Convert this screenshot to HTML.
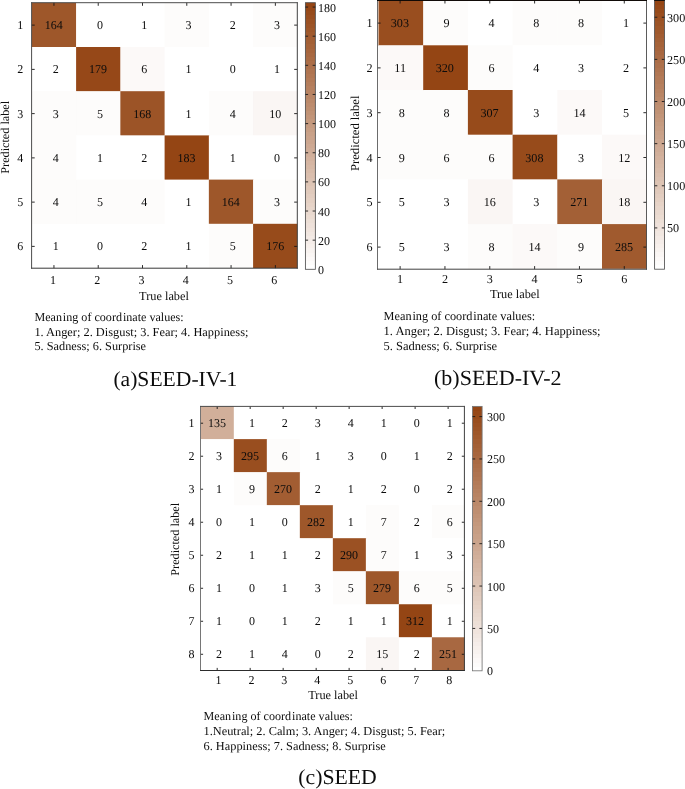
<!DOCTYPE html>
<html><head><meta charset="utf-8"><title>Confusion matrices</title>
<style>
html,body{margin:0;padding:0;background:#fff;}
body{width:685px;height:789px;overflow:hidden;font-family:"Liberation Serif",serif;}
svg{display:block;font-family:"Liberation Serif",serif;will-change:transform;}
text{text-rendering:geometricPrecision;}
</style></head><body>
<svg width="685" height="789" viewBox="0 0 685 789">
<rect x="31.85" y="2.80" width="44.65" height="44.60" fill="rgb(158,87,42)"/>
<rect x="76.10" y="2.80" width="44.65" height="44.60" fill="rgb(255,255,255)"/>
<rect x="120.35" y="2.80" width="44.65" height="44.60" fill="rgb(255,255,255)"/>
<rect x="164.60" y="2.80" width="44.65" height="44.60" fill="rgb(253,252,251)"/>
<rect x="208.85" y="2.80" width="44.65" height="44.60" fill="rgb(255,255,255)"/>
<rect x="253.10" y="2.80" width="44.25" height="44.60" fill="rgb(253,252,251)"/>
<rect x="31.85" y="47.00" width="44.65" height="44.60" fill="rgb(255,255,255)"/>
<rect x="76.10" y="47.00" width="44.65" height="44.60" fill="rgb(150,72,24)"/>
<rect x="120.35" y="47.00" width="44.65" height="44.60" fill="rgb(252,249,248)"/>
<rect x="164.60" y="47.00" width="44.65" height="44.60" fill="rgb(255,255,255)"/>
<rect x="208.85" y="47.00" width="44.65" height="44.60" fill="rgb(255,255,255)"/>
<rect x="253.10" y="47.00" width="44.25" height="44.60" fill="rgb(255,255,255)"/>
<rect x="31.85" y="91.20" width="44.65" height="44.60" fill="rgb(253,252,251)"/>
<rect x="76.10" y="91.20" width="44.65" height="44.60" fill="rgb(253,252,251)"/>
<rect x="120.35" y="91.20" width="44.65" height="44.60" fill="rgb(156,84,39)"/>
<rect x="164.60" y="91.20" width="44.65" height="44.60" fill="rgb(255,255,255)"/>
<rect x="208.85" y="91.20" width="44.65" height="44.60" fill="rgb(253,252,251)"/>
<rect x="253.10" y="91.20" width="44.25" height="44.60" fill="rgb(250,246,244)"/>
<rect x="31.85" y="135.40" width="44.65" height="44.60" fill="rgb(253,252,251)"/>
<rect x="76.10" y="135.40" width="44.65" height="44.60" fill="rgb(255,255,255)"/>
<rect x="120.35" y="135.40" width="44.65" height="44.60" fill="rgb(255,255,255)"/>
<rect x="164.60" y="135.40" width="44.65" height="44.60" fill="rgb(148,69,20)"/>
<rect x="208.85" y="135.40" width="44.65" height="44.60" fill="rgb(255,255,255)"/>
<rect x="253.10" y="135.40" width="44.25" height="44.60" fill="rgb(255,255,255)"/>
<rect x="31.85" y="179.60" width="44.65" height="44.60" fill="rgb(253,252,251)"/>
<rect x="76.10" y="179.60" width="44.65" height="44.60" fill="rgb(253,252,251)"/>
<rect x="120.35" y="179.60" width="44.65" height="44.60" fill="rgb(253,252,251)"/>
<rect x="164.60" y="179.60" width="44.65" height="44.60" fill="rgb(255,255,255)"/>
<rect x="208.85" y="179.60" width="44.65" height="44.60" fill="rgb(158,87,42)"/>
<rect x="253.10" y="179.60" width="44.25" height="44.60" fill="rgb(253,252,251)"/>
<rect x="31.85" y="223.80" width="44.65" height="44.20" fill="rgb(255,255,255)"/>
<rect x="76.10" y="223.80" width="44.65" height="44.20" fill="rgb(255,255,255)"/>
<rect x="120.35" y="223.80" width="44.65" height="44.20" fill="rgb(255,255,255)"/>
<rect x="164.60" y="223.80" width="44.65" height="44.20" fill="rgb(255,255,255)"/>
<rect x="208.85" y="223.80" width="44.65" height="44.20" fill="rgb(253,252,251)"/>
<rect x="253.10" y="223.80" width="44.25" height="44.20" fill="rgb(151,75,27)"/>
<text x="53.74" y="29.22" font-size="12" text-anchor="middle" fill="#0c0c0c">164</text>
<text x="99.93" y="29.22" font-size="12" text-anchor="middle" fill="#0c0c0c">0</text>
<text x="144.21" y="29.22" font-size="12" text-anchor="middle" fill="#0c0c0c">1</text>
<text x="188.49" y="29.22" font-size="12" text-anchor="middle" fill="#0c0c0c">3</text>
<text x="232.77" y="29.22" font-size="12" text-anchor="middle" fill="#0c0c0c">2</text>
<text x="277.06" y="29.22" font-size="12" text-anchor="middle" fill="#0c0c0c">3</text>
<text x="55.64" y="73.47" font-size="12" text-anchor="middle" fill="#0c0c0c">2</text>
<text x="98.03" y="73.47" font-size="12" text-anchor="middle" fill="#0c0c0c">179</text>
<text x="144.21" y="73.47" font-size="12" text-anchor="middle" fill="#0c0c0c">6</text>
<text x="188.49" y="73.47" font-size="12" text-anchor="middle" fill="#0c0c0c">1</text>
<text x="232.77" y="73.47" font-size="12" text-anchor="middle" fill="#0c0c0c">0</text>
<text x="277.06" y="73.47" font-size="12" text-anchor="middle" fill="#0c0c0c">1</text>
<text x="55.64" y="117.72" font-size="12" text-anchor="middle" fill="#0c0c0c">3</text>
<text x="99.93" y="117.72" font-size="12" text-anchor="middle" fill="#0c0c0c">5</text>
<text x="142.31" y="117.72" font-size="12" text-anchor="middle" fill="#0c0c0c">168</text>
<text x="188.49" y="117.72" font-size="12" text-anchor="middle" fill="#0c0c0c">1</text>
<text x="232.77" y="117.72" font-size="12" text-anchor="middle" fill="#0c0c0c">4</text>
<text x="275.36" y="117.72" font-size="12" text-anchor="middle" fill="#0c0c0c">10</text>
<text x="55.64" y="161.97" font-size="12" text-anchor="middle" fill="#0c0c0c">4</text>
<text x="99.93" y="161.97" font-size="12" text-anchor="middle" fill="#0c0c0c">1</text>
<text x="144.21" y="161.97" font-size="12" text-anchor="middle" fill="#0c0c0c">2</text>
<text x="186.59" y="161.97" font-size="12" text-anchor="middle" fill="#0c0c0c">183</text>
<text x="232.77" y="161.97" font-size="12" text-anchor="middle" fill="#0c0c0c">1</text>
<text x="277.06" y="161.97" font-size="12" text-anchor="middle" fill="#0c0c0c">0</text>
<text x="55.64" y="206.22" font-size="12" text-anchor="middle" fill="#0c0c0c">4</text>
<text x="99.93" y="206.22" font-size="12" text-anchor="middle" fill="#0c0c0c">5</text>
<text x="144.21" y="206.22" font-size="12" text-anchor="middle" fill="#0c0c0c">4</text>
<text x="188.49" y="206.22" font-size="12" text-anchor="middle" fill="#0c0c0c">1</text>
<text x="230.87" y="206.22" font-size="12" text-anchor="middle" fill="#0c0c0c">164</text>
<text x="277.06" y="206.22" font-size="12" text-anchor="middle" fill="#0c0c0c">3</text>
<text x="55.64" y="250.47" font-size="12" text-anchor="middle" fill="#0c0c0c">1</text>
<text x="99.93" y="250.47" font-size="12" text-anchor="middle" fill="#0c0c0c">0</text>
<text x="144.21" y="250.47" font-size="12" text-anchor="middle" fill="#0c0c0c">2</text>
<text x="188.49" y="250.47" font-size="12" text-anchor="middle" fill="#0c0c0c">1</text>
<text x="232.77" y="250.47" font-size="12" text-anchor="middle" fill="#0c0c0c">5</text>
<text x="275.16" y="250.47" font-size="12" text-anchor="middle" fill="#0c0c0c">176</text>
<path d="M53.94 268.20v-3.1M53.94 2.70v3.1M31.60 25.12h3.1M297.30 25.12h-3.1" stroke="#141414" stroke-width="0.9" fill="none"/>
<text x="23.20" y="29.23" font-size="12" text-anchor="end" fill="#0c0c0c">1</text>
<text x="52.94" y="284.20" font-size="12" text-anchor="middle" fill="#0c0c0c">1</text>
<path d="M98.23 268.20v-3.1M98.23 2.70v3.1M31.60 69.38h3.1M297.30 69.38h-3.1" stroke="#141414" stroke-width="0.9" fill="none"/>
<text x="23.20" y="73.47" font-size="12" text-anchor="end" fill="#0c0c0c">2</text>
<text x="97.23" y="284.20" font-size="12" text-anchor="middle" fill="#0c0c0c">2</text>
<path d="M142.51 268.20v-3.1M142.51 2.70v3.1M31.60 113.62h3.1M297.30 113.62h-3.1" stroke="#141414" stroke-width="0.9" fill="none"/>
<text x="23.20" y="117.72" font-size="12" text-anchor="end" fill="#0c0c0c">3</text>
<text x="141.51" y="284.20" font-size="12" text-anchor="middle" fill="#0c0c0c">3</text>
<path d="M186.79 268.20v-3.1M186.79 2.70v3.1M31.60 157.88h3.1M297.30 157.88h-3.1" stroke="#141414" stroke-width="0.9" fill="none"/>
<text x="23.20" y="161.97" font-size="12" text-anchor="end" fill="#0c0c0c">4</text>
<text x="185.79" y="284.20" font-size="12" text-anchor="middle" fill="#0c0c0c">4</text>
<path d="M231.07 268.20v-3.1M231.07 2.70v3.1M31.60 202.12h3.1M297.30 202.12h-3.1" stroke="#141414" stroke-width="0.9" fill="none"/>
<text x="23.20" y="206.22" font-size="12" text-anchor="end" fill="#0c0c0c">5</text>
<text x="230.07" y="284.20" font-size="12" text-anchor="middle" fill="#0c0c0c">5</text>
<path d="M275.36 268.20v-3.1M275.36 2.70v3.1M31.60 246.38h3.1M297.30 246.38h-3.1" stroke="#141414" stroke-width="0.9" fill="none"/>
<text x="23.20" y="250.47" font-size="12" text-anchor="end" fill="#0c0c0c">6</text>
<text x="274.36" y="284.20" font-size="12" text-anchor="middle" fill="#0c0c0c">6</text>
<path d="M31.60 2.25V268.65" stroke="#4d4d4d" stroke-width="1"/>
<path d="M297.30 2.25V268.65" stroke="#404040" stroke-width="1"/>
<path d="M31.15 2.70H297.75" stroke="#4d4d4d" stroke-width="1"/>
<path d="M31.15 268.20H297.75" stroke="#383838" stroke-width="1"/>
<text x="164.00" y="299.70" font-size="12.3" text-anchor="middle" fill="#0c0c0c">True label</text>
<text transform="translate(9.00,137.30) rotate(-90)" font-size="12" text-anchor="middle" fill="#0c0c0c" textLength="72.8" lengthAdjust="spacingAndGlyphs">Predicted label</text>
<linearGradient id="g31" x1="0" y1="1" x2="0" y2="0"><stop offset="0.00000" stop-color="rgb(255,255,255)"/><stop offset="0.01562" stop-color="rgb(255,255,255)"/><stop offset="0.01562" stop-color="rgb(253,252,251)"/><stop offset="0.03125" stop-color="rgb(253,252,251)"/><stop offset="0.03125" stop-color="rgb(252,249,248)"/><stop offset="0.04688" stop-color="rgb(252,249,248)"/><stop offset="0.04688" stop-color="rgb(250,246,244)"/><stop offset="0.06250" stop-color="rgb(250,246,244)"/><stop offset="0.06250" stop-color="rgb(248,243,240)"/><stop offset="0.07812" stop-color="rgb(248,243,240)"/><stop offset="0.07812" stop-color="rgb(247,240,236)"/><stop offset="0.09375" stop-color="rgb(247,240,236)"/><stop offset="0.09375" stop-color="rgb(245,237,233)"/><stop offset="0.10938" stop-color="rgb(245,237,233)"/><stop offset="0.10938" stop-color="rgb(243,234,229)"/><stop offset="0.12500" stop-color="rgb(243,234,229)"/><stop offset="0.12500" stop-color="rgb(241,231,225)"/><stop offset="0.14062" stop-color="rgb(241,231,225)"/><stop offset="0.14062" stop-color="rgb(240,228,221)"/><stop offset="0.15625" stop-color="rgb(240,228,221)"/><stop offset="0.15625" stop-color="rgb(238,225,218)"/><stop offset="0.17188" stop-color="rgb(238,225,218)"/><stop offset="0.17188" stop-color="rgb(236,223,214)"/><stop offset="0.18750" stop-color="rgb(236,223,214)"/><stop offset="0.18750" stop-color="rgb(235,220,210)"/><stop offset="0.20312" stop-color="rgb(235,220,210)"/><stop offset="0.20312" stop-color="rgb(233,217,207)"/><stop offset="0.21875" stop-color="rgb(233,217,207)"/><stop offset="0.21875" stop-color="rgb(231,214,203)"/><stop offset="0.23438" stop-color="rgb(231,214,203)"/><stop offset="0.23438" stop-color="rgb(230,211,199)"/><stop offset="0.25000" stop-color="rgb(230,211,199)"/><stop offset="0.25000" stop-color="rgb(228,208,195)"/><stop offset="0.26562" stop-color="rgb(228,208,195)"/><stop offset="0.26562" stop-color="rgb(226,205,192)"/><stop offset="0.28125" stop-color="rgb(226,205,192)"/><stop offset="0.28125" stop-color="rgb(224,202,188)"/><stop offset="0.29688" stop-color="rgb(224,202,188)"/><stop offset="0.29688" stop-color="rgb(223,199,184)"/><stop offset="0.31250" stop-color="rgb(223,199,184)"/><stop offset="0.31250" stop-color="rgb(221,196,180)"/><stop offset="0.32812" stop-color="rgb(221,196,180)"/><stop offset="0.32812" stop-color="rgb(219,193,177)"/><stop offset="0.34375" stop-color="rgb(219,193,177)"/><stop offset="0.34375" stop-color="rgb(218,190,173)"/><stop offset="0.35938" stop-color="rgb(218,190,173)"/><stop offset="0.35938" stop-color="rgb(216,187,169)"/><stop offset="0.37500" stop-color="rgb(216,187,169)"/><stop offset="0.37500" stop-color="rgb(214,184,165)"/><stop offset="0.39062" stop-color="rgb(214,184,165)"/><stop offset="0.39062" stop-color="rgb(213,181,162)"/><stop offset="0.40625" stop-color="rgb(213,181,162)"/><stop offset="0.40625" stop-color="rgb(211,178,158)"/><stop offset="0.42188" stop-color="rgb(211,178,158)"/><stop offset="0.42188" stop-color="rgb(209,175,154)"/><stop offset="0.43750" stop-color="rgb(209,175,154)"/><stop offset="0.43750" stop-color="rgb(207,172,151)"/><stop offset="0.45312" stop-color="rgb(207,172,151)"/><stop offset="0.45312" stop-color="rgb(206,169,147)"/><stop offset="0.46875" stop-color="rgb(206,169,147)"/><stop offset="0.46875" stop-color="rgb(204,166,143)"/><stop offset="0.48438" stop-color="rgb(204,166,143)"/><stop offset="0.48438" stop-color="rgb(202,163,139)"/><stop offset="0.50000" stop-color="rgb(202,163,139)"/><stop offset="0.50000" stop-color="rgb(201,161,136)"/><stop offset="0.51562" stop-color="rgb(201,161,136)"/><stop offset="0.51562" stop-color="rgb(199,158,132)"/><stop offset="0.53125" stop-color="rgb(199,158,132)"/><stop offset="0.53125" stop-color="rgb(197,155,128)"/><stop offset="0.54688" stop-color="rgb(197,155,128)"/><stop offset="0.54688" stop-color="rgb(196,152,124)"/><stop offset="0.56250" stop-color="rgb(196,152,124)"/><stop offset="0.56250" stop-color="rgb(194,149,121)"/><stop offset="0.57812" stop-color="rgb(194,149,121)"/><stop offset="0.57812" stop-color="rgb(192,146,117)"/><stop offset="0.59375" stop-color="rgb(192,146,117)"/><stop offset="0.59375" stop-color="rgb(190,143,113)"/><stop offset="0.60938" stop-color="rgb(190,143,113)"/><stop offset="0.60938" stop-color="rgb(189,140,110)"/><stop offset="0.62500" stop-color="rgb(189,140,110)"/><stop offset="0.62500" stop-color="rgb(187,137,106)"/><stop offset="0.64062" stop-color="rgb(187,137,106)"/><stop offset="0.64062" stop-color="rgb(185,134,102)"/><stop offset="0.65625" stop-color="rgb(185,134,102)"/><stop offset="0.65625" stop-color="rgb(184,131,98)"/><stop offset="0.67188" stop-color="rgb(184,131,98)"/><stop offset="0.67188" stop-color="rgb(182,128,95)"/><stop offset="0.68750" stop-color="rgb(182,128,95)"/><stop offset="0.68750" stop-color="rgb(180,125,91)"/><stop offset="0.70312" stop-color="rgb(180,125,91)"/><stop offset="0.70312" stop-color="rgb(179,122,87)"/><stop offset="0.71875" stop-color="rgb(179,122,87)"/><stop offset="0.71875" stop-color="rgb(177,119,83)"/><stop offset="0.73438" stop-color="rgb(177,119,83)"/><stop offset="0.73438" stop-color="rgb(175,116,80)"/><stop offset="0.75000" stop-color="rgb(175,116,80)"/><stop offset="0.75000" stop-color="rgb(173,113,76)"/><stop offset="0.76562" stop-color="rgb(173,113,76)"/><stop offset="0.76562" stop-color="rgb(172,110,72)"/><stop offset="0.78125" stop-color="rgb(172,110,72)"/><stop offset="0.78125" stop-color="rgb(170,107,68)"/><stop offset="0.79688" stop-color="rgb(170,107,68)"/><stop offset="0.79688" stop-color="rgb(168,104,65)"/><stop offset="0.81250" stop-color="rgb(168,104,65)"/><stop offset="0.81250" stop-color="rgb(167,101,61)"/><stop offset="0.82812" stop-color="rgb(167,101,61)"/><stop offset="0.82812" stop-color="rgb(165,99,57)"/><stop offset="0.84375" stop-color="rgb(165,99,57)"/><stop offset="0.84375" stop-color="rgb(163,96,54)"/><stop offset="0.85938" stop-color="rgb(163,96,54)"/><stop offset="0.85938" stop-color="rgb(162,93,50)"/><stop offset="0.87500" stop-color="rgb(162,93,50)"/><stop offset="0.87500" stop-color="rgb(160,90,46)"/><stop offset="0.89062" stop-color="rgb(160,90,46)"/><stop offset="0.89062" stop-color="rgb(158,87,42)"/><stop offset="0.90625" stop-color="rgb(158,87,42)"/><stop offset="0.90625" stop-color="rgb(156,84,39)"/><stop offset="0.92188" stop-color="rgb(156,84,39)"/><stop offset="0.92188" stop-color="rgb(155,81,35)"/><stop offset="0.93750" stop-color="rgb(155,81,35)"/><stop offset="0.93750" stop-color="rgb(153,78,31)"/><stop offset="0.95312" stop-color="rgb(153,78,31)"/><stop offset="0.95312" stop-color="rgb(151,75,27)"/><stop offset="0.96875" stop-color="rgb(151,75,27)"/><stop offset="0.96875" stop-color="rgb(150,72,24)"/><stop offset="0.98438" stop-color="rgb(150,72,24)"/><stop offset="0.98438" stop-color="rgb(148,69,20)"/><stop offset="1.00000" stop-color="rgb(148,69,20)"/></linearGradient>
<rect x="305.40" y="2.70" width="9.95" height="266.60" fill="url(#g31)" stroke="#505050" stroke-width="0.85"/>
<text x="318.00" y="273.80" font-size="12" text-anchor="start" fill="#0c0c0c">0</text>
<path d="M305.40 240.16h2.7M315.35 240.16h-2.7" stroke="#1a1a1a" stroke-width="0.9" fill="none"/>
<text x="318.00" y="244.66" font-size="12" text-anchor="start" fill="#0c0c0c">20</text>
<path d="M305.40 211.03h2.7M315.35 211.03h-2.7" stroke="#1a1a1a" stroke-width="0.9" fill="none"/>
<text x="318.00" y="215.53" font-size="12" text-anchor="start" fill="#0c0c0c">40</text>
<path d="M305.40 181.89h2.7M315.35 181.89h-2.7" stroke="#1a1a1a" stroke-width="0.9" fill="none"/>
<text x="318.00" y="186.39" font-size="12" text-anchor="start" fill="#0c0c0c">60</text>
<path d="M305.40 152.75h2.7M315.35 152.75h-2.7" stroke="#1a1a1a" stroke-width="0.9" fill="none"/>
<text x="318.00" y="157.25" font-size="12" text-anchor="start" fill="#0c0c0c">80</text>
<path d="M305.40 123.62h2.7M315.35 123.62h-2.7" stroke="#1a1a1a" stroke-width="0.9" fill="none"/>
<text x="318.00" y="128.12" font-size="12" text-anchor="start" fill="#0c0c0c">100</text>
<path d="M305.40 94.48h2.7M315.35 94.48h-2.7" stroke="#1a1a1a" stroke-width="0.9" fill="none"/>
<text x="318.00" y="98.98" font-size="12" text-anchor="start" fill="#0c0c0c">120</text>
<path d="M305.40 65.34h2.7M315.35 65.34h-2.7" stroke="#1a1a1a" stroke-width="0.9" fill="none"/>
<text x="318.00" y="69.84" font-size="12" text-anchor="start" fill="#0c0c0c">140</text>
<path d="M305.40 36.21h2.7M315.35 36.21h-2.7" stroke="#1a1a1a" stroke-width="0.9" fill="none"/>
<text x="318.00" y="40.71" font-size="12" text-anchor="start" fill="#0c0c0c">160</text>
<path d="M305.40 7.07h2.7M315.35 7.07h-2.7" stroke="#1a1a1a" stroke-width="0.9" fill="none"/>
<text x="318.00" y="11.57" font-size="12" text-anchor="start" fill="#0c0c0c">180</text>
<rect x="378.50" y="0.60" width="45.10" height="45.10" fill="rgb(153,78,31)"/>
<rect x="423.20" y="0.60" width="45.10" height="45.10" fill="rgb(253,252,251)"/>
<rect x="467.90" y="0.60" width="45.10" height="45.10" fill="rgb(255,255,255)"/>
<rect x="512.60" y="0.60" width="45.10" height="45.10" fill="rgb(253,252,251)"/>
<rect x="557.30" y="0.60" width="45.10" height="45.10" fill="rgb(253,252,251)"/>
<rect x="602.00" y="0.60" width="44.70" height="45.10" fill="rgb(255,255,255)"/>
<rect x="378.50" y="45.30" width="45.10" height="45.10" fill="rgb(252,249,248)"/>
<rect x="423.20" y="45.30" width="45.10" height="45.10" fill="rgb(148,69,20)"/>
<rect x="467.90" y="45.30" width="45.10" height="45.10" fill="rgb(253,252,251)"/>
<rect x="512.60" y="45.30" width="45.10" height="45.10" fill="rgb(255,255,255)"/>
<rect x="557.30" y="45.30" width="45.10" height="45.10" fill="rgb(255,255,255)"/>
<rect x="602.00" y="45.30" width="44.70" height="45.10" fill="rgb(255,255,255)"/>
<rect x="378.50" y="90.00" width="45.10" height="45.10" fill="rgb(253,252,251)"/>
<rect x="423.20" y="90.00" width="45.10" height="45.10" fill="rgb(253,252,251)"/>
<rect x="467.90" y="90.00" width="45.10" height="45.10" fill="rgb(151,75,27)"/>
<rect x="512.60" y="90.00" width="45.10" height="45.10" fill="rgb(255,255,255)"/>
<rect x="557.30" y="90.00" width="45.10" height="45.10" fill="rgb(252,249,248)"/>
<rect x="602.00" y="90.00" width="44.70" height="45.10" fill="rgb(255,255,255)"/>
<rect x="378.50" y="134.70" width="45.10" height="45.10" fill="rgb(253,252,251)"/>
<rect x="423.20" y="134.70" width="45.10" height="45.10" fill="rgb(253,252,251)"/>
<rect x="467.90" y="134.70" width="45.10" height="45.10" fill="rgb(253,252,251)"/>
<rect x="512.60" y="134.70" width="45.10" height="45.10" fill="rgb(151,75,27)"/>
<rect x="557.30" y="134.70" width="45.10" height="45.10" fill="rgb(255,255,255)"/>
<rect x="602.00" y="134.70" width="44.70" height="45.10" fill="rgb(252,249,248)"/>
<rect x="378.50" y="179.40" width="45.10" height="45.10" fill="rgb(255,255,255)"/>
<rect x="423.20" y="179.40" width="45.10" height="45.10" fill="rgb(255,255,255)"/>
<rect x="467.90" y="179.40" width="45.10" height="45.10" fill="rgb(250,246,244)"/>
<rect x="512.60" y="179.40" width="45.10" height="45.10" fill="rgb(255,255,255)"/>
<rect x="557.30" y="179.40" width="45.10" height="45.10" fill="rgb(163,96,54)"/>
<rect x="602.00" y="179.40" width="44.70" height="45.10" fill="rgb(250,246,244)"/>
<rect x="378.50" y="224.10" width="45.10" height="44.70" fill="rgb(255,255,255)"/>
<rect x="423.20" y="224.10" width="45.10" height="44.70" fill="rgb(255,255,255)"/>
<rect x="467.90" y="224.10" width="45.10" height="44.70" fill="rgb(253,252,251)"/>
<rect x="512.60" y="224.10" width="45.10" height="44.70" fill="rgb(252,249,248)"/>
<rect x="557.30" y="224.10" width="45.10" height="44.70" fill="rgb(253,252,251)"/>
<rect x="602.00" y="224.10" width="44.70" height="44.70" fill="rgb(160,90,46)"/>
<text x="399.92" y="27.20" font-size="12.15" text-anchor="middle" fill="#0c0c0c">303</text>
<text x="446.65" y="27.20" font-size="12.15" text-anchor="middle" fill="#0c0c0c">9</text>
<text x="491.48" y="27.20" font-size="12.15" text-anchor="middle" fill="#0c0c0c">4</text>
<text x="536.32" y="27.20" font-size="12.15" text-anchor="middle" fill="#0c0c0c">8</text>
<text x="581.15" y="27.20" font-size="12.15" text-anchor="middle" fill="#0c0c0c">8</text>
<text x="625.98" y="27.20" font-size="12.15" text-anchor="middle" fill="#0c0c0c">1</text>
<text x="400.12" y="72.00" font-size="12.15" text-anchor="middle" fill="#0c0c0c">11</text>
<text x="444.75" y="72.00" font-size="12.15" text-anchor="middle" fill="#0c0c0c">320</text>
<text x="491.48" y="72.00" font-size="12.15" text-anchor="middle" fill="#0c0c0c">6</text>
<text x="536.32" y="72.00" font-size="12.15" text-anchor="middle" fill="#0c0c0c">4</text>
<text x="581.15" y="72.00" font-size="12.15" text-anchor="middle" fill="#0c0c0c">3</text>
<text x="625.98" y="72.00" font-size="12.15" text-anchor="middle" fill="#0c0c0c">2</text>
<text x="401.82" y="116.80" font-size="12.15" text-anchor="middle" fill="#0c0c0c">8</text>
<text x="446.65" y="116.80" font-size="12.15" text-anchor="middle" fill="#0c0c0c">8</text>
<text x="489.58" y="116.80" font-size="12.15" text-anchor="middle" fill="#0c0c0c">307</text>
<text x="536.32" y="116.80" font-size="12.15" text-anchor="middle" fill="#0c0c0c">3</text>
<text x="579.45" y="116.80" font-size="12.15" text-anchor="middle" fill="#0c0c0c">14</text>
<text x="625.98" y="116.80" font-size="12.15" text-anchor="middle" fill="#0c0c0c">5</text>
<text x="401.82" y="161.60" font-size="12.15" text-anchor="middle" fill="#0c0c0c">9</text>
<text x="446.65" y="161.60" font-size="12.15" text-anchor="middle" fill="#0c0c0c">6</text>
<text x="491.48" y="161.60" font-size="12.15" text-anchor="middle" fill="#0c0c0c">6</text>
<text x="534.42" y="161.60" font-size="12.15" text-anchor="middle" fill="#0c0c0c">308</text>
<text x="581.15" y="161.60" font-size="12.15" text-anchor="middle" fill="#0c0c0c">3</text>
<text x="624.28" y="161.60" font-size="12.15" text-anchor="middle" fill="#0c0c0c">12</text>
<text x="401.82" y="206.40" font-size="12.15" text-anchor="middle" fill="#0c0c0c">5</text>
<text x="446.65" y="206.40" font-size="12.15" text-anchor="middle" fill="#0c0c0c">3</text>
<text x="489.78" y="206.40" font-size="12.15" text-anchor="middle" fill="#0c0c0c">16</text>
<text x="536.32" y="206.40" font-size="12.15" text-anchor="middle" fill="#0c0c0c">3</text>
<text x="579.25" y="206.40" font-size="12.15" text-anchor="middle" fill="#0c0c0c">271</text>
<text x="624.28" y="206.40" font-size="12.15" text-anchor="middle" fill="#0c0c0c">18</text>
<text x="401.82" y="251.20" font-size="12.15" text-anchor="middle" fill="#0c0c0c">5</text>
<text x="446.65" y="251.20" font-size="12.15" text-anchor="middle" fill="#0c0c0c">3</text>
<text x="491.48" y="251.20" font-size="12.15" text-anchor="middle" fill="#0c0c0c">8</text>
<text x="534.62" y="251.20" font-size="12.15" text-anchor="middle" fill="#0c0c0c">14</text>
<text x="581.15" y="251.20" font-size="12.15" text-anchor="middle" fill="#0c0c0c">9</text>
<text x="624.08" y="251.20" font-size="12.15" text-anchor="middle" fill="#0c0c0c">285</text>
<path d="M400.12 269.20v-3.1M400.12 0.40v3.1M377.50 23.10h3.1M646.50 23.10h-3.1" stroke="#141414" stroke-width="0.9" fill="none"/>
<text x="372.50" y="27.20" font-size="12.15" text-anchor="end" fill="#0c0c0c">1</text>
<text x="400.12" y="283.00" font-size="12.15" text-anchor="middle" fill="#0c0c0c">1</text>
<path d="M444.95 269.20v-3.1M444.95 0.40v3.1M377.50 67.90h3.1M646.50 67.90h-3.1" stroke="#141414" stroke-width="0.9" fill="none"/>
<text x="372.50" y="72.00" font-size="12.15" text-anchor="end" fill="#0c0c0c">2</text>
<text x="444.95" y="283.00" font-size="12.15" text-anchor="middle" fill="#0c0c0c">2</text>
<path d="M489.78 269.20v-3.1M489.78 0.40v3.1M377.50 112.70h3.1M646.50 112.70h-3.1" stroke="#141414" stroke-width="0.9" fill="none"/>
<text x="372.50" y="116.80" font-size="12.15" text-anchor="end" fill="#0c0c0c">3</text>
<text x="489.78" y="283.00" font-size="12.15" text-anchor="middle" fill="#0c0c0c">3</text>
<path d="M534.62 269.20v-3.1M534.62 0.40v3.1M377.50 157.50h3.1M646.50 157.50h-3.1" stroke="#141414" stroke-width="0.9" fill="none"/>
<text x="372.50" y="161.60" font-size="12.15" text-anchor="end" fill="#0c0c0c">4</text>
<text x="534.62" y="283.00" font-size="12.15" text-anchor="middle" fill="#0c0c0c">4</text>
<path d="M579.45 269.20v-3.1M579.45 0.40v3.1M377.50 202.30h3.1M646.50 202.30h-3.1" stroke="#141414" stroke-width="0.9" fill="none"/>
<text x="372.50" y="206.40" font-size="12.15" text-anchor="end" fill="#0c0c0c">5</text>
<text x="579.45" y="283.00" font-size="12.15" text-anchor="middle" fill="#0c0c0c">5</text>
<path d="M624.28 269.20v-3.1M624.28 0.40v3.1M377.50 247.10h3.1M646.50 247.10h-3.1" stroke="#141414" stroke-width="0.9" fill="none"/>
<text x="372.50" y="251.20" font-size="12.15" text-anchor="end" fill="#0c0c0c">6</text>
<text x="624.28" y="283.00" font-size="12.15" text-anchor="middle" fill="#0c0c0c">6</text>
<path d="M377.50 -0.05V269.65" stroke="#505050" stroke-width="0.85"/>
<path d="M646.50 -0.05V269.65" stroke="#484848" stroke-width="0.9"/>
<path d="M377.05 0.40H646.95" stroke="#0a0500" stroke-width="0.9"/>
<path d="M377.05 269.20H646.95" stroke="#404040" stroke-width="1"/>
<text x="514.80" y="298.30" font-size="12.3" text-anchor="middle" fill="#0c0c0c">True label</text>
<text transform="translate(359.10,133.30) rotate(-90)" font-size="12.15" text-anchor="middle" fill="#0c0c0c" textLength="75.4" lengthAdjust="spacingAndGlyphs">Predicted label</text>
<linearGradient id="g377" x1="0" y1="1" x2="0" y2="0"><stop offset="0.00000" stop-color="rgb(255,255,255)"/><stop offset="0.01562" stop-color="rgb(255,255,255)"/><stop offset="0.01562" stop-color="rgb(253,252,251)"/><stop offset="0.03125" stop-color="rgb(253,252,251)"/><stop offset="0.03125" stop-color="rgb(252,249,248)"/><stop offset="0.04688" stop-color="rgb(252,249,248)"/><stop offset="0.04688" stop-color="rgb(250,246,244)"/><stop offset="0.06250" stop-color="rgb(250,246,244)"/><stop offset="0.06250" stop-color="rgb(248,243,240)"/><stop offset="0.07812" stop-color="rgb(248,243,240)"/><stop offset="0.07812" stop-color="rgb(247,240,236)"/><stop offset="0.09375" stop-color="rgb(247,240,236)"/><stop offset="0.09375" stop-color="rgb(245,237,233)"/><stop offset="0.10938" stop-color="rgb(245,237,233)"/><stop offset="0.10938" stop-color="rgb(243,234,229)"/><stop offset="0.12500" stop-color="rgb(243,234,229)"/><stop offset="0.12500" stop-color="rgb(241,231,225)"/><stop offset="0.14062" stop-color="rgb(241,231,225)"/><stop offset="0.14062" stop-color="rgb(240,228,221)"/><stop offset="0.15625" stop-color="rgb(240,228,221)"/><stop offset="0.15625" stop-color="rgb(238,225,218)"/><stop offset="0.17188" stop-color="rgb(238,225,218)"/><stop offset="0.17188" stop-color="rgb(236,223,214)"/><stop offset="0.18750" stop-color="rgb(236,223,214)"/><stop offset="0.18750" stop-color="rgb(235,220,210)"/><stop offset="0.20312" stop-color="rgb(235,220,210)"/><stop offset="0.20312" stop-color="rgb(233,217,207)"/><stop offset="0.21875" stop-color="rgb(233,217,207)"/><stop offset="0.21875" stop-color="rgb(231,214,203)"/><stop offset="0.23438" stop-color="rgb(231,214,203)"/><stop offset="0.23438" stop-color="rgb(230,211,199)"/><stop offset="0.25000" stop-color="rgb(230,211,199)"/><stop offset="0.25000" stop-color="rgb(228,208,195)"/><stop offset="0.26562" stop-color="rgb(228,208,195)"/><stop offset="0.26562" stop-color="rgb(226,205,192)"/><stop offset="0.28125" stop-color="rgb(226,205,192)"/><stop offset="0.28125" stop-color="rgb(224,202,188)"/><stop offset="0.29688" stop-color="rgb(224,202,188)"/><stop offset="0.29688" stop-color="rgb(223,199,184)"/><stop offset="0.31250" stop-color="rgb(223,199,184)"/><stop offset="0.31250" stop-color="rgb(221,196,180)"/><stop offset="0.32812" stop-color="rgb(221,196,180)"/><stop offset="0.32812" stop-color="rgb(219,193,177)"/><stop offset="0.34375" stop-color="rgb(219,193,177)"/><stop offset="0.34375" stop-color="rgb(218,190,173)"/><stop offset="0.35938" stop-color="rgb(218,190,173)"/><stop offset="0.35938" stop-color="rgb(216,187,169)"/><stop offset="0.37500" stop-color="rgb(216,187,169)"/><stop offset="0.37500" stop-color="rgb(214,184,165)"/><stop offset="0.39062" stop-color="rgb(214,184,165)"/><stop offset="0.39062" stop-color="rgb(213,181,162)"/><stop offset="0.40625" stop-color="rgb(213,181,162)"/><stop offset="0.40625" stop-color="rgb(211,178,158)"/><stop offset="0.42188" stop-color="rgb(211,178,158)"/><stop offset="0.42188" stop-color="rgb(209,175,154)"/><stop offset="0.43750" stop-color="rgb(209,175,154)"/><stop offset="0.43750" stop-color="rgb(207,172,151)"/><stop offset="0.45312" stop-color="rgb(207,172,151)"/><stop offset="0.45312" stop-color="rgb(206,169,147)"/><stop offset="0.46875" stop-color="rgb(206,169,147)"/><stop offset="0.46875" stop-color="rgb(204,166,143)"/><stop offset="0.48438" stop-color="rgb(204,166,143)"/><stop offset="0.48438" stop-color="rgb(202,163,139)"/><stop offset="0.50000" stop-color="rgb(202,163,139)"/><stop offset="0.50000" stop-color="rgb(201,161,136)"/><stop offset="0.51562" stop-color="rgb(201,161,136)"/><stop offset="0.51562" stop-color="rgb(199,158,132)"/><stop offset="0.53125" stop-color="rgb(199,158,132)"/><stop offset="0.53125" stop-color="rgb(197,155,128)"/><stop offset="0.54688" stop-color="rgb(197,155,128)"/><stop offset="0.54688" stop-color="rgb(196,152,124)"/><stop offset="0.56250" stop-color="rgb(196,152,124)"/><stop offset="0.56250" stop-color="rgb(194,149,121)"/><stop offset="0.57812" stop-color="rgb(194,149,121)"/><stop offset="0.57812" stop-color="rgb(192,146,117)"/><stop offset="0.59375" stop-color="rgb(192,146,117)"/><stop offset="0.59375" stop-color="rgb(190,143,113)"/><stop offset="0.60938" stop-color="rgb(190,143,113)"/><stop offset="0.60938" stop-color="rgb(189,140,110)"/><stop offset="0.62500" stop-color="rgb(189,140,110)"/><stop offset="0.62500" stop-color="rgb(187,137,106)"/><stop offset="0.64062" stop-color="rgb(187,137,106)"/><stop offset="0.64062" stop-color="rgb(185,134,102)"/><stop offset="0.65625" stop-color="rgb(185,134,102)"/><stop offset="0.65625" stop-color="rgb(184,131,98)"/><stop offset="0.67188" stop-color="rgb(184,131,98)"/><stop offset="0.67188" stop-color="rgb(182,128,95)"/><stop offset="0.68750" stop-color="rgb(182,128,95)"/><stop offset="0.68750" stop-color="rgb(180,125,91)"/><stop offset="0.70312" stop-color="rgb(180,125,91)"/><stop offset="0.70312" stop-color="rgb(179,122,87)"/><stop offset="0.71875" stop-color="rgb(179,122,87)"/><stop offset="0.71875" stop-color="rgb(177,119,83)"/><stop offset="0.73438" stop-color="rgb(177,119,83)"/><stop offset="0.73438" stop-color="rgb(175,116,80)"/><stop offset="0.75000" stop-color="rgb(175,116,80)"/><stop offset="0.75000" stop-color="rgb(173,113,76)"/><stop offset="0.76562" stop-color="rgb(173,113,76)"/><stop offset="0.76562" stop-color="rgb(172,110,72)"/><stop offset="0.78125" stop-color="rgb(172,110,72)"/><stop offset="0.78125" stop-color="rgb(170,107,68)"/><stop offset="0.79688" stop-color="rgb(170,107,68)"/><stop offset="0.79688" stop-color="rgb(168,104,65)"/><stop offset="0.81250" stop-color="rgb(168,104,65)"/><stop offset="0.81250" stop-color="rgb(167,101,61)"/><stop offset="0.82812" stop-color="rgb(167,101,61)"/><stop offset="0.82812" stop-color="rgb(165,99,57)"/><stop offset="0.84375" stop-color="rgb(165,99,57)"/><stop offset="0.84375" stop-color="rgb(163,96,54)"/><stop offset="0.85938" stop-color="rgb(163,96,54)"/><stop offset="0.85938" stop-color="rgb(162,93,50)"/><stop offset="0.87500" stop-color="rgb(162,93,50)"/><stop offset="0.87500" stop-color="rgb(160,90,46)"/><stop offset="0.89062" stop-color="rgb(160,90,46)"/><stop offset="0.89062" stop-color="rgb(158,87,42)"/><stop offset="0.90625" stop-color="rgb(158,87,42)"/><stop offset="0.90625" stop-color="rgb(156,84,39)"/><stop offset="0.92188" stop-color="rgb(156,84,39)"/><stop offset="0.92188" stop-color="rgb(155,81,35)"/><stop offset="0.93750" stop-color="rgb(155,81,35)"/><stop offset="0.93750" stop-color="rgb(153,78,31)"/><stop offset="0.95312" stop-color="rgb(153,78,31)"/><stop offset="0.95312" stop-color="rgb(151,75,27)"/><stop offset="0.96875" stop-color="rgb(151,75,27)"/><stop offset="0.96875" stop-color="rgb(150,72,24)"/><stop offset="0.98438" stop-color="rgb(150,72,24)"/><stop offset="0.98438" stop-color="rgb(148,69,20)"/><stop offset="1.00000" stop-color="rgb(148,69,20)"/></linearGradient>
<rect x="654.60" y="0.40" width="9.90" height="268.80" fill="url(#g377)" stroke="#505050" stroke-width="0.85"/>
<path d="M654.60 227.91h2.7M664.50 227.91h-2.7" stroke="#1a1a1a" stroke-width="0.9" fill="none"/>
<text x="667.00" y="232.41" font-size="12.15" text-anchor="start" fill="#0c0c0c">50</text>
<path d="M654.60 185.78h2.7M664.50 185.78h-2.7" stroke="#1a1a1a" stroke-width="0.9" fill="none"/>
<text x="667.00" y="190.28" font-size="12.15" text-anchor="start" fill="#0c0c0c">100</text>
<path d="M654.60 143.65h2.7M664.50 143.65h-2.7" stroke="#1a1a1a" stroke-width="0.9" fill="none"/>
<text x="667.00" y="148.15" font-size="12.15" text-anchor="start" fill="#0c0c0c">150</text>
<path d="M654.60 101.52h2.7M664.50 101.52h-2.7" stroke="#1a1a1a" stroke-width="0.9" fill="none"/>
<text x="667.00" y="106.02" font-size="12.15" text-anchor="start" fill="#0c0c0c">200</text>
<path d="M654.60 59.38h2.7M664.50 59.38h-2.7" stroke="#1a1a1a" stroke-width="0.9" fill="none"/>
<text x="667.00" y="63.88" font-size="12.15" text-anchor="start" fill="#0c0c0c">250</text>
<path d="M654.60 17.25h2.7M664.50 17.25h-2.7" stroke="#1a1a1a" stroke-width="0.9" fill="none"/>
<text x="667.00" y="21.75" font-size="12.15" text-anchor="start" fill="#0c0c0c">300</text>
<rect x="200.80" y="406.10" width="33.41" height="33.42" fill="rgb(209,175,154)"/>
<rect x="233.81" y="406.10" width="33.41" height="33.42" fill="rgb(255,255,255)"/>
<rect x="266.82" y="406.10" width="33.41" height="33.42" fill="rgb(255,255,255)"/>
<rect x="299.84" y="406.10" width="33.41" height="33.42" fill="rgb(255,255,255)"/>
<rect x="332.85" y="406.10" width="33.41" height="33.42" fill="rgb(255,255,255)"/>
<rect x="365.86" y="406.10" width="33.41" height="33.42" fill="rgb(255,255,255)"/>
<rect x="398.88" y="406.10" width="33.41" height="33.42" fill="rgb(255,255,255)"/>
<rect x="431.89" y="406.10" width="33.01" height="33.42" fill="rgb(255,255,255)"/>
<rect x="200.80" y="439.12" width="33.41" height="33.42" fill="rgb(255,255,255)"/>
<rect x="233.81" y="439.12" width="33.41" height="33.42" fill="rgb(153,78,31)"/>
<rect x="266.82" y="439.12" width="33.41" height="33.42" fill="rgb(253,252,251)"/>
<rect x="299.84" y="439.12" width="33.41" height="33.42" fill="rgb(255,255,255)"/>
<rect x="332.85" y="439.12" width="33.41" height="33.42" fill="rgb(255,255,255)"/>
<rect x="365.86" y="439.12" width="33.41" height="33.42" fill="rgb(255,255,255)"/>
<rect x="398.88" y="439.12" width="33.41" height="33.42" fill="rgb(255,255,255)"/>
<rect x="431.89" y="439.12" width="33.01" height="33.42" fill="rgb(255,255,255)"/>
<rect x="200.80" y="472.15" width="33.41" height="33.42" fill="rgb(255,255,255)"/>
<rect x="233.81" y="472.15" width="33.41" height="33.42" fill="rgb(253,252,251)"/>
<rect x="266.82" y="472.15" width="33.41" height="33.42" fill="rgb(162,93,50)"/>
<rect x="299.84" y="472.15" width="33.41" height="33.42" fill="rgb(255,255,255)"/>
<rect x="332.85" y="472.15" width="33.41" height="33.42" fill="rgb(255,255,255)"/>
<rect x="365.86" y="472.15" width="33.41" height="33.42" fill="rgb(255,255,255)"/>
<rect x="398.88" y="472.15" width="33.41" height="33.42" fill="rgb(255,255,255)"/>
<rect x="431.89" y="472.15" width="33.01" height="33.42" fill="rgb(255,255,255)"/>
<rect x="200.80" y="505.18" width="33.41" height="33.42" fill="rgb(255,255,255)"/>
<rect x="233.81" y="505.18" width="33.41" height="33.42" fill="rgb(255,255,255)"/>
<rect x="266.82" y="505.18" width="33.41" height="33.42" fill="rgb(255,255,255)"/>
<rect x="299.84" y="505.18" width="33.41" height="33.42" fill="rgb(158,87,42)"/>
<rect x="332.85" y="505.18" width="33.41" height="33.42" fill="rgb(255,255,255)"/>
<rect x="365.86" y="505.18" width="33.41" height="33.42" fill="rgb(253,252,251)"/>
<rect x="398.88" y="505.18" width="33.41" height="33.42" fill="rgb(255,255,255)"/>
<rect x="431.89" y="505.18" width="33.01" height="33.42" fill="rgb(253,252,251)"/>
<rect x="200.80" y="538.20" width="33.41" height="33.42" fill="rgb(255,255,255)"/>
<rect x="233.81" y="538.20" width="33.41" height="33.42" fill="rgb(255,255,255)"/>
<rect x="266.82" y="538.20" width="33.41" height="33.42" fill="rgb(255,255,255)"/>
<rect x="299.84" y="538.20" width="33.41" height="33.42" fill="rgb(255,255,255)"/>
<rect x="332.85" y="538.20" width="33.41" height="33.42" fill="rgb(155,81,35)"/>
<rect x="365.86" y="538.20" width="33.41" height="33.42" fill="rgb(253,252,251)"/>
<rect x="398.88" y="538.20" width="33.41" height="33.42" fill="rgb(255,255,255)"/>
<rect x="431.89" y="538.20" width="33.01" height="33.42" fill="rgb(255,255,255)"/>
<rect x="200.80" y="571.22" width="33.41" height="33.42" fill="rgb(255,255,255)"/>
<rect x="233.81" y="571.22" width="33.41" height="33.42" fill="rgb(255,255,255)"/>
<rect x="266.82" y="571.22" width="33.41" height="33.42" fill="rgb(255,255,255)"/>
<rect x="299.84" y="571.22" width="33.41" height="33.42" fill="rgb(255,255,255)"/>
<rect x="332.85" y="571.22" width="33.41" height="33.42" fill="rgb(253,252,251)"/>
<rect x="365.86" y="571.22" width="33.41" height="33.42" fill="rgb(158,87,42)"/>
<rect x="398.88" y="571.22" width="33.41" height="33.42" fill="rgb(253,252,251)"/>
<rect x="431.89" y="571.22" width="33.01" height="33.42" fill="rgb(253,252,251)"/>
<rect x="200.80" y="604.25" width="33.41" height="33.42" fill="rgb(255,255,255)"/>
<rect x="233.81" y="604.25" width="33.41" height="33.42" fill="rgb(255,255,255)"/>
<rect x="266.82" y="604.25" width="33.41" height="33.42" fill="rgb(255,255,255)"/>
<rect x="299.84" y="604.25" width="33.41" height="33.42" fill="rgb(255,255,255)"/>
<rect x="332.85" y="604.25" width="33.41" height="33.42" fill="rgb(255,255,255)"/>
<rect x="365.86" y="604.25" width="33.41" height="33.42" fill="rgb(255,255,255)"/>
<rect x="398.88" y="604.25" width="33.41" height="33.42" fill="rgb(148,69,20)"/>
<rect x="431.89" y="604.25" width="33.01" height="33.42" fill="rgb(255,255,255)"/>
<rect x="200.80" y="637.27" width="33.41" height="33.02" fill="rgb(255,255,255)"/>
<rect x="233.81" y="637.27" width="33.41" height="33.02" fill="rgb(255,255,255)"/>
<rect x="266.82" y="637.27" width="33.41" height="33.02" fill="rgb(255,255,255)"/>
<rect x="299.84" y="637.27" width="33.41" height="33.02" fill="rgb(255,255,255)"/>
<rect x="332.85" y="637.27" width="33.41" height="33.02" fill="rgb(255,255,255)"/>
<rect x="365.86" y="637.27" width="33.41" height="33.02" fill="rgb(250,246,244)"/>
<rect x="398.88" y="637.27" width="33.41" height="33.02" fill="rgb(255,255,255)"/>
<rect x="431.89" y="637.27" width="33.01" height="33.02" fill="rgb(168,104,65)"/>
<text x="216.99" y="427.31" font-size="12" text-anchor="middle" fill="#0c0c0c">135</text>
<text x="251.88" y="427.31" font-size="12" text-anchor="middle" fill="#0c0c0c">1</text>
<text x="284.87" y="427.31" font-size="12" text-anchor="middle" fill="#0c0c0c">2</text>
<text x="317.86" y="427.31" font-size="12" text-anchor="middle" fill="#0c0c0c">3</text>
<text x="350.84" y="427.31" font-size="12" text-anchor="middle" fill="#0c0c0c">4</text>
<text x="383.83" y="427.31" font-size="12" text-anchor="middle" fill="#0c0c0c">1</text>
<text x="416.82" y="427.31" font-size="12" text-anchor="middle" fill="#0c0c0c">0</text>
<text x="449.81" y="427.31" font-size="12" text-anchor="middle" fill="#0c0c0c">1</text>
<text x="218.89" y="460.32" font-size="12" text-anchor="middle" fill="#0c0c0c">3</text>
<text x="249.98" y="460.32" font-size="12" text-anchor="middle" fill="#0c0c0c">295</text>
<text x="284.87" y="460.32" font-size="12" text-anchor="middle" fill="#0c0c0c">6</text>
<text x="317.86" y="460.32" font-size="12" text-anchor="middle" fill="#0c0c0c">1</text>
<text x="350.84" y="460.32" font-size="12" text-anchor="middle" fill="#0c0c0c">3</text>
<text x="383.83" y="460.32" font-size="12" text-anchor="middle" fill="#0c0c0c">0</text>
<text x="416.82" y="460.32" font-size="12" text-anchor="middle" fill="#0c0c0c">1</text>
<text x="449.81" y="460.32" font-size="12" text-anchor="middle" fill="#0c0c0c">2</text>
<text x="218.89" y="493.33" font-size="12" text-anchor="middle" fill="#0c0c0c">1</text>
<text x="251.88" y="493.33" font-size="12" text-anchor="middle" fill="#0c0c0c">9</text>
<text x="282.97" y="493.33" font-size="12" text-anchor="middle" fill="#0c0c0c">270</text>
<text x="317.86" y="493.33" font-size="12" text-anchor="middle" fill="#0c0c0c">2</text>
<text x="350.84" y="493.33" font-size="12" text-anchor="middle" fill="#0c0c0c">1</text>
<text x="383.83" y="493.33" font-size="12" text-anchor="middle" fill="#0c0c0c">2</text>
<text x="416.82" y="493.33" font-size="12" text-anchor="middle" fill="#0c0c0c">0</text>
<text x="449.81" y="493.33" font-size="12" text-anchor="middle" fill="#0c0c0c">2</text>
<text x="218.89" y="526.34" font-size="12" text-anchor="middle" fill="#0c0c0c">0</text>
<text x="251.88" y="526.34" font-size="12" text-anchor="middle" fill="#0c0c0c">1</text>
<text x="284.87" y="526.34" font-size="12" text-anchor="middle" fill="#0c0c0c">0</text>
<text x="315.96" y="526.34" font-size="12" text-anchor="middle" fill="#0c0c0c">282</text>
<text x="350.84" y="526.34" font-size="12" text-anchor="middle" fill="#0c0c0c">1</text>
<text x="383.83" y="526.34" font-size="12" text-anchor="middle" fill="#0c0c0c">7</text>
<text x="416.82" y="526.34" font-size="12" text-anchor="middle" fill="#0c0c0c">2</text>
<text x="449.81" y="526.34" font-size="12" text-anchor="middle" fill="#0c0c0c">6</text>
<text x="218.89" y="559.36" font-size="12" text-anchor="middle" fill="#0c0c0c">2</text>
<text x="251.88" y="559.36" font-size="12" text-anchor="middle" fill="#0c0c0c">1</text>
<text x="284.87" y="559.36" font-size="12" text-anchor="middle" fill="#0c0c0c">1</text>
<text x="317.86" y="559.36" font-size="12" text-anchor="middle" fill="#0c0c0c">2</text>
<text x="348.94" y="559.36" font-size="12" text-anchor="middle" fill="#0c0c0c">290</text>
<text x="383.83" y="559.36" font-size="12" text-anchor="middle" fill="#0c0c0c">7</text>
<text x="416.82" y="559.36" font-size="12" text-anchor="middle" fill="#0c0c0c">1</text>
<text x="449.81" y="559.36" font-size="12" text-anchor="middle" fill="#0c0c0c">3</text>
<text x="218.89" y="592.37" font-size="12" text-anchor="middle" fill="#0c0c0c">1</text>
<text x="251.88" y="592.37" font-size="12" text-anchor="middle" fill="#0c0c0c">0</text>
<text x="284.87" y="592.37" font-size="12" text-anchor="middle" fill="#0c0c0c">1</text>
<text x="317.86" y="592.37" font-size="12" text-anchor="middle" fill="#0c0c0c">3</text>
<text x="350.84" y="592.37" font-size="12" text-anchor="middle" fill="#0c0c0c">5</text>
<text x="381.93" y="592.37" font-size="12" text-anchor="middle" fill="#0c0c0c">279</text>
<text x="416.82" y="592.37" font-size="12" text-anchor="middle" fill="#0c0c0c">6</text>
<text x="449.81" y="592.37" font-size="12" text-anchor="middle" fill="#0c0c0c">5</text>
<text x="218.89" y="625.38" font-size="12" text-anchor="middle" fill="#0c0c0c">1</text>
<text x="251.88" y="625.38" font-size="12" text-anchor="middle" fill="#0c0c0c">0</text>
<text x="284.87" y="625.38" font-size="12" text-anchor="middle" fill="#0c0c0c">1</text>
<text x="317.86" y="625.38" font-size="12" text-anchor="middle" fill="#0c0c0c">2</text>
<text x="350.84" y="625.38" font-size="12" text-anchor="middle" fill="#0c0c0c">1</text>
<text x="383.83" y="625.38" font-size="12" text-anchor="middle" fill="#0c0c0c">1</text>
<text x="414.92" y="625.38" font-size="12" text-anchor="middle" fill="#0c0c0c">312</text>
<text x="449.81" y="625.38" font-size="12" text-anchor="middle" fill="#0c0c0c">1</text>
<text x="218.89" y="658.39" font-size="12" text-anchor="middle" fill="#0c0c0c">2</text>
<text x="251.88" y="658.39" font-size="12" text-anchor="middle" fill="#0c0c0c">1</text>
<text x="284.87" y="658.39" font-size="12" text-anchor="middle" fill="#0c0c0c">4</text>
<text x="317.86" y="658.39" font-size="12" text-anchor="middle" fill="#0c0c0c">0</text>
<text x="350.84" y="658.39" font-size="12" text-anchor="middle" fill="#0c0c0c">2</text>
<text x="382.13" y="658.39" font-size="12" text-anchor="middle" fill="#0c0c0c">15</text>
<text x="416.82" y="658.39" font-size="12" text-anchor="middle" fill="#0c0c0c">2</text>
<text x="447.91" y="658.39" font-size="12" text-anchor="middle" fill="#0c0c0c">251</text>
<path d="M217.19 670.50v-2.6M217.19 406.40v2.6M200.50 423.21h2.6M464.40 423.21h-2.6" stroke="#141414" stroke-width="0.9" fill="none"/>
<text x="194.60" y="427.31" font-size="12" text-anchor="end" fill="#0c0c0c">1</text>
<text x="218.39" y="684.30" font-size="12" text-anchor="middle" fill="#0c0c0c">1</text>
<path d="M250.18 670.50v-2.6M250.18 406.40v2.6M200.50 456.22h2.6M464.40 456.22h-2.6" stroke="#141414" stroke-width="0.9" fill="none"/>
<text x="194.60" y="460.32" font-size="12" text-anchor="end" fill="#0c0c0c">2</text>
<text x="251.38" y="684.30" font-size="12" text-anchor="middle" fill="#0c0c0c">2</text>
<path d="M283.17 670.50v-2.6M283.17 406.40v2.6M200.50 489.23h2.6M464.40 489.23h-2.6" stroke="#141414" stroke-width="0.9" fill="none"/>
<text x="194.60" y="493.33" font-size="12" text-anchor="end" fill="#0c0c0c">3</text>
<text x="284.37" y="684.30" font-size="12" text-anchor="middle" fill="#0c0c0c">3</text>
<path d="M316.16 670.50v-2.6M316.16 406.40v2.6M200.50 522.24h2.6M464.40 522.24h-2.6" stroke="#141414" stroke-width="0.9" fill="none"/>
<text x="194.60" y="526.34" font-size="12" text-anchor="end" fill="#0c0c0c">4</text>
<text x="317.36" y="684.30" font-size="12" text-anchor="middle" fill="#0c0c0c">4</text>
<path d="M349.14 670.50v-2.6M349.14 406.40v2.6M200.50 555.26h2.6M464.40 555.26h-2.6" stroke="#141414" stroke-width="0.9" fill="none"/>
<text x="194.60" y="559.36" font-size="12" text-anchor="end" fill="#0c0c0c">5</text>
<text x="350.34" y="684.30" font-size="12" text-anchor="middle" fill="#0c0c0c">5</text>
<path d="M382.13 670.50v-2.6M382.13 406.40v2.6M200.50 588.27h2.6M464.40 588.27h-2.6" stroke="#141414" stroke-width="0.9" fill="none"/>
<text x="194.60" y="592.37" font-size="12" text-anchor="end" fill="#0c0c0c">6</text>
<text x="383.33" y="684.30" font-size="12" text-anchor="middle" fill="#0c0c0c">6</text>
<path d="M415.12 670.50v-2.6M415.12 406.40v2.6M200.50 621.28h2.6M464.40 621.28h-2.6" stroke="#141414" stroke-width="0.9" fill="none"/>
<text x="194.60" y="625.38" font-size="12" text-anchor="end" fill="#0c0c0c">7</text>
<text x="416.32" y="684.30" font-size="12" text-anchor="middle" fill="#0c0c0c">7</text>
<path d="M448.11 670.50v-2.6M448.11 406.40v2.6M200.50 654.29h2.6M464.40 654.29h-2.6" stroke="#141414" stroke-width="0.9" fill="none"/>
<text x="194.60" y="658.39" font-size="12" text-anchor="end" fill="#0c0c0c">8</text>
<text x="449.31" y="684.30" font-size="12" text-anchor="middle" fill="#0c0c0c">8</text>
<path d="M200.50 405.95V670.95" stroke="#666666" stroke-width="0.9"/>
<path d="M464.40 405.95V670.95" stroke="#404040" stroke-width="1"/>
<path d="M200.05 406.40H464.85" stroke="#4d4d4d" stroke-width="1"/>
<path d="M200.05 670.50H464.85" stroke="#2c2c2c" stroke-width="1"/>
<text x="333.10" y="698.60" font-size="12.3" text-anchor="middle" fill="#0c0c0c">True label</text>
<text transform="translate(178.80,539.30) rotate(-90)" font-size="12" text-anchor="middle" fill="#0c0c0c" textLength="72.8" lengthAdjust="spacingAndGlyphs">Predicted label</text>
<linearGradient id="g200" x1="0" y1="1" x2="0" y2="0"><stop offset="0.00000" stop-color="rgb(255,255,255)"/><stop offset="0.01562" stop-color="rgb(255,255,255)"/><stop offset="0.01562" stop-color="rgb(253,252,251)"/><stop offset="0.03125" stop-color="rgb(253,252,251)"/><stop offset="0.03125" stop-color="rgb(252,249,248)"/><stop offset="0.04688" stop-color="rgb(252,249,248)"/><stop offset="0.04688" stop-color="rgb(250,246,244)"/><stop offset="0.06250" stop-color="rgb(250,246,244)"/><stop offset="0.06250" stop-color="rgb(248,243,240)"/><stop offset="0.07812" stop-color="rgb(248,243,240)"/><stop offset="0.07812" stop-color="rgb(247,240,236)"/><stop offset="0.09375" stop-color="rgb(247,240,236)"/><stop offset="0.09375" stop-color="rgb(245,237,233)"/><stop offset="0.10938" stop-color="rgb(245,237,233)"/><stop offset="0.10938" stop-color="rgb(243,234,229)"/><stop offset="0.12500" stop-color="rgb(243,234,229)"/><stop offset="0.12500" stop-color="rgb(241,231,225)"/><stop offset="0.14062" stop-color="rgb(241,231,225)"/><stop offset="0.14062" stop-color="rgb(240,228,221)"/><stop offset="0.15625" stop-color="rgb(240,228,221)"/><stop offset="0.15625" stop-color="rgb(238,225,218)"/><stop offset="0.17188" stop-color="rgb(238,225,218)"/><stop offset="0.17188" stop-color="rgb(236,223,214)"/><stop offset="0.18750" stop-color="rgb(236,223,214)"/><stop offset="0.18750" stop-color="rgb(235,220,210)"/><stop offset="0.20312" stop-color="rgb(235,220,210)"/><stop offset="0.20312" stop-color="rgb(233,217,207)"/><stop offset="0.21875" stop-color="rgb(233,217,207)"/><stop offset="0.21875" stop-color="rgb(231,214,203)"/><stop offset="0.23438" stop-color="rgb(231,214,203)"/><stop offset="0.23438" stop-color="rgb(230,211,199)"/><stop offset="0.25000" stop-color="rgb(230,211,199)"/><stop offset="0.25000" stop-color="rgb(228,208,195)"/><stop offset="0.26562" stop-color="rgb(228,208,195)"/><stop offset="0.26562" stop-color="rgb(226,205,192)"/><stop offset="0.28125" stop-color="rgb(226,205,192)"/><stop offset="0.28125" stop-color="rgb(224,202,188)"/><stop offset="0.29688" stop-color="rgb(224,202,188)"/><stop offset="0.29688" stop-color="rgb(223,199,184)"/><stop offset="0.31250" stop-color="rgb(223,199,184)"/><stop offset="0.31250" stop-color="rgb(221,196,180)"/><stop offset="0.32812" stop-color="rgb(221,196,180)"/><stop offset="0.32812" stop-color="rgb(219,193,177)"/><stop offset="0.34375" stop-color="rgb(219,193,177)"/><stop offset="0.34375" stop-color="rgb(218,190,173)"/><stop offset="0.35938" stop-color="rgb(218,190,173)"/><stop offset="0.35938" stop-color="rgb(216,187,169)"/><stop offset="0.37500" stop-color="rgb(216,187,169)"/><stop offset="0.37500" stop-color="rgb(214,184,165)"/><stop offset="0.39062" stop-color="rgb(214,184,165)"/><stop offset="0.39062" stop-color="rgb(213,181,162)"/><stop offset="0.40625" stop-color="rgb(213,181,162)"/><stop offset="0.40625" stop-color="rgb(211,178,158)"/><stop offset="0.42188" stop-color="rgb(211,178,158)"/><stop offset="0.42188" stop-color="rgb(209,175,154)"/><stop offset="0.43750" stop-color="rgb(209,175,154)"/><stop offset="0.43750" stop-color="rgb(207,172,151)"/><stop offset="0.45312" stop-color="rgb(207,172,151)"/><stop offset="0.45312" stop-color="rgb(206,169,147)"/><stop offset="0.46875" stop-color="rgb(206,169,147)"/><stop offset="0.46875" stop-color="rgb(204,166,143)"/><stop offset="0.48438" stop-color="rgb(204,166,143)"/><stop offset="0.48438" stop-color="rgb(202,163,139)"/><stop offset="0.50000" stop-color="rgb(202,163,139)"/><stop offset="0.50000" stop-color="rgb(201,161,136)"/><stop offset="0.51562" stop-color="rgb(201,161,136)"/><stop offset="0.51562" stop-color="rgb(199,158,132)"/><stop offset="0.53125" stop-color="rgb(199,158,132)"/><stop offset="0.53125" stop-color="rgb(197,155,128)"/><stop offset="0.54688" stop-color="rgb(197,155,128)"/><stop offset="0.54688" stop-color="rgb(196,152,124)"/><stop offset="0.56250" stop-color="rgb(196,152,124)"/><stop offset="0.56250" stop-color="rgb(194,149,121)"/><stop offset="0.57812" stop-color="rgb(194,149,121)"/><stop offset="0.57812" stop-color="rgb(192,146,117)"/><stop offset="0.59375" stop-color="rgb(192,146,117)"/><stop offset="0.59375" stop-color="rgb(190,143,113)"/><stop offset="0.60938" stop-color="rgb(190,143,113)"/><stop offset="0.60938" stop-color="rgb(189,140,110)"/><stop offset="0.62500" stop-color="rgb(189,140,110)"/><stop offset="0.62500" stop-color="rgb(187,137,106)"/><stop offset="0.64062" stop-color="rgb(187,137,106)"/><stop offset="0.64062" stop-color="rgb(185,134,102)"/><stop offset="0.65625" stop-color="rgb(185,134,102)"/><stop offset="0.65625" stop-color="rgb(184,131,98)"/><stop offset="0.67188" stop-color="rgb(184,131,98)"/><stop offset="0.67188" stop-color="rgb(182,128,95)"/><stop offset="0.68750" stop-color="rgb(182,128,95)"/><stop offset="0.68750" stop-color="rgb(180,125,91)"/><stop offset="0.70312" stop-color="rgb(180,125,91)"/><stop offset="0.70312" stop-color="rgb(179,122,87)"/><stop offset="0.71875" stop-color="rgb(179,122,87)"/><stop offset="0.71875" stop-color="rgb(177,119,83)"/><stop offset="0.73438" stop-color="rgb(177,119,83)"/><stop offset="0.73438" stop-color="rgb(175,116,80)"/><stop offset="0.75000" stop-color="rgb(175,116,80)"/><stop offset="0.75000" stop-color="rgb(173,113,76)"/><stop offset="0.76562" stop-color="rgb(173,113,76)"/><stop offset="0.76562" stop-color="rgb(172,110,72)"/><stop offset="0.78125" stop-color="rgb(172,110,72)"/><stop offset="0.78125" stop-color="rgb(170,107,68)"/><stop offset="0.79688" stop-color="rgb(170,107,68)"/><stop offset="0.79688" stop-color="rgb(168,104,65)"/><stop offset="0.81250" stop-color="rgb(168,104,65)"/><stop offset="0.81250" stop-color="rgb(167,101,61)"/><stop offset="0.82812" stop-color="rgb(167,101,61)"/><stop offset="0.82812" stop-color="rgb(165,99,57)"/><stop offset="0.84375" stop-color="rgb(165,99,57)"/><stop offset="0.84375" stop-color="rgb(163,96,54)"/><stop offset="0.85938" stop-color="rgb(163,96,54)"/><stop offset="0.85938" stop-color="rgb(162,93,50)"/><stop offset="0.87500" stop-color="rgb(162,93,50)"/><stop offset="0.87500" stop-color="rgb(160,90,46)"/><stop offset="0.89062" stop-color="rgb(160,90,46)"/><stop offset="0.89062" stop-color="rgb(158,87,42)"/><stop offset="0.90625" stop-color="rgb(158,87,42)"/><stop offset="0.90625" stop-color="rgb(156,84,39)"/><stop offset="0.92188" stop-color="rgb(156,84,39)"/><stop offset="0.92188" stop-color="rgb(155,81,35)"/><stop offset="0.93750" stop-color="rgb(155,81,35)"/><stop offset="0.93750" stop-color="rgb(153,78,31)"/><stop offset="0.95312" stop-color="rgb(153,78,31)"/><stop offset="0.95312" stop-color="rgb(151,75,27)"/><stop offset="0.96875" stop-color="rgb(151,75,27)"/><stop offset="0.96875" stop-color="rgb(150,72,24)"/><stop offset="0.98438" stop-color="rgb(150,72,24)"/><stop offset="0.98438" stop-color="rgb(148,69,20)"/><stop offset="1.00000" stop-color="rgb(148,69,20)"/></linearGradient>
<rect x="472.50" y="406.40" width="9.60" height="264.40" fill="url(#g200)" stroke="#767676" stroke-width="0.85"/>
<text x="487.00" y="675.30" font-size="12" text-anchor="start" fill="#0c0c0c">0</text>
<path d="M472.50 628.43h2.7M482.10 628.43h-2.7" stroke="#1a1a1a" stroke-width="0.9" fill="none"/>
<text x="487.00" y="632.93" font-size="12" text-anchor="start" fill="#0c0c0c">50</text>
<path d="M472.50 586.06h2.7M482.10 586.06h-2.7" stroke="#1a1a1a" stroke-width="0.9" fill="none"/>
<text x="487.00" y="590.56" font-size="12" text-anchor="start" fill="#0c0c0c">100</text>
<path d="M472.50 543.68h2.7M482.10 543.68h-2.7" stroke="#1a1a1a" stroke-width="0.9" fill="none"/>
<text x="487.00" y="548.18" font-size="12" text-anchor="start" fill="#0c0c0c">150</text>
<path d="M472.50 501.31h2.7M482.10 501.31h-2.7" stroke="#1a1a1a" stroke-width="0.9" fill="none"/>
<text x="487.00" y="505.81" font-size="12" text-anchor="start" fill="#0c0c0c">200</text>
<path d="M472.50 458.94h2.7M482.10 458.94h-2.7" stroke="#1a1a1a" stroke-width="0.9" fill="none"/>
<text x="487.00" y="463.44" font-size="12" text-anchor="start" fill="#0c0c0c">250</text>
<path d="M472.50 416.57h2.7M482.10 416.57h-2.7" stroke="#1a1a1a" stroke-width="0.9" fill="none"/>
<text x="487.00" y="421.07" font-size="12" text-anchor="start" fill="#0c0c0c">300</text>
<path d="M377.1 0.45H646.9M654.2 0.45H664.9" stroke="#0a0500" stroke-width="0.9" fill="none"/>
<text x="34.40" y="321.10" font-size="12.25" text-anchor="start" fill="#0c0c0c" textLength="149.3" lengthAdjust="spacingAndGlyphs">Mean<tspan dx="0.9">ing of coord</tspan><tspan dx="0.9">inate values:</tspan></text>
<text x="34.40" y="335.70" font-size="12.25" text-anchor="start" fill="#0c0c0c" textLength="214.0" lengthAdjust="spacingAndGlyphs">1. Anger; 2. Disgust; 3. Fear; 4. Happiness;</text>
<text x="34.40" y="350.40" font-size="12.25" text-anchor="start" fill="#0c0c0c" textLength="111.7" lengthAdjust="spacingAndGlyphs">5. Sadness; 6. Surprise</text>
<text x="383.60" y="319.90" font-size="12.4" text-anchor="start" fill="#0c0c0c" textLength="151.5" lengthAdjust="spacingAndGlyphs">Mean<tspan dx="0.9">ing of coord</tspan><tspan dx="0.9">inate values:</tspan></text>
<text x="383.60" y="335.30" font-size="12.4" text-anchor="start" fill="#0c0c0c" textLength="217.0" lengthAdjust="spacingAndGlyphs">1. Anger; 2. Disgust; 3. Fear; 4. Happiness;</text>
<text x="383.60" y="349.80" font-size="12.4" text-anchor="start" fill="#0c0c0c" textLength="113.5" lengthAdjust="spacingAndGlyphs">5. Sadness; 6. Surprise</text>
<text x="203.50" y="720.10" font-size="12.25" text-anchor="start" fill="#0c0c0c" textLength="149.4" lengthAdjust="spacingAndGlyphs">Mean<tspan dx="0.9">ing of coord</tspan><tspan dx="0.9">inate values:</tspan></text>
<text x="203.50" y="735.00" font-size="12.25" text-anchor="start" fill="#0c0c0c" textLength="241.8" lengthAdjust="spacingAndGlyphs">1.Neutral; 2. Calm; 3. Anger; 4. Disgust; 5. Fear;</text>
<text x="203.50" y="749.50" font-size="12.25" text-anchor="start" fill="#0c0c0c" textLength="182.3" lengthAdjust="spacingAndGlyphs">6. Happiness; 7. Sadness; 8. Surprise</text>
<text x="113.40" y="385.60" font-size="21.4" text-anchor="start" fill="#0c0c0c" textLength="124.0" lengthAdjust="spacingAndGlyphs">(a)SEED-IV-1</text>
<text x="434.00" y="384.50" font-size="21.6" text-anchor="start" fill="#0c0c0c" textLength="127.6" lengthAdjust="spacingAndGlyphs">(b)SEED-IV-2</text>
<text x="298.30" y="784.30" font-size="21.4" text-anchor="start" fill="#0c0c0c" textLength="78.5" lengthAdjust="spacingAndGlyphs">(c)SEED</text>
</svg>
</body></html>
